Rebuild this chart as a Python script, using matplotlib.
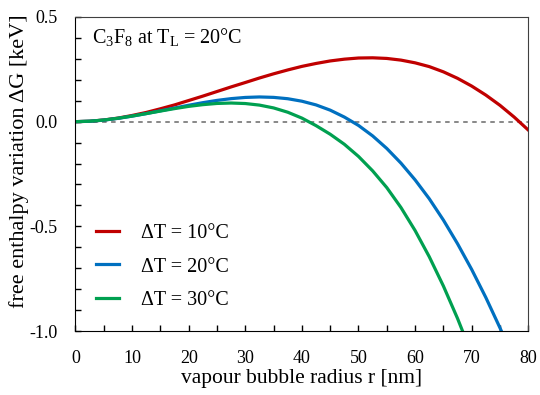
import numpy as np
import matplotlib
matplotlib.use("Agg")
import matplotlib.pyplot as plt
from matplotlib.ticker import MultipleLocator

plt.rcParams['font.family'] = ['Liberation Serif', 'DejaVu Serif']
plt.rcParams['mathtext.fontset'] = 'custom'
plt.rcParams['mathtext.rm'] = 'Liberation Serif'
plt.rcParams['mathtext.it'] = 'Liberation Serif:italic'
plt.rcParams['axes.unicode_minus'] = False

# bubble radius [nm]
r = [0, 2.5, 5, 7.5, 10, 12.5, 15, 17.5, 20, 22.5, 25, 27.5, 30, 32.5, 35, 37.5,
     40, 42.5, 45, 47.5, 50, 52.5, 55, 57.5, 60, 62.5, 65, 67.5, 70, 72.5, 75, 77.5, 80]

# free enthalpy variation [keV]
dg_10 = [0, 0.002, 0.008, 0.017, 0.0295, 0.044, 0.0615, 0.080, 0.101, 0.122, 0.144,
         0.166, 0.187, 0.2085, 0.2285, 0.247, 0.264, 0.278, 0.290, 0.2985, 0.304,
         0.305, 0.302, 0.294, 0.281, 0.263, 0.238, 0.207, 0.170, 0.127, 0.078, 0.022, -0.04]
dg_20 = [0, 0.002, 0.0074, 0.0158, 0.0264, 0.0385, 0.0517, 0.0652, 0.0784, 0.0907,
         0.1015, 0.110, 0.1157, 0.118, 0.116, 0.1096, 0.0977, 0.080, 0.055, 0.022,
         -0.018, -0.068, -0.128, -0.198, -0.278, -0.368, -0.47, -0.583, -0.706, -0.84,
         -0.985, -1.14]
dg_30 = [0, 0.0021, 0.0078, 0.0163, 0.0267, 0.0385, 0.0506, 0.0623, 0.073, 0.0812,
         0.087, 0.089, 0.0866, 0.0791, 0.0656, 0.0451, 0.017, -0.019, -0.06, -0.108,
         -0.166, -0.235, -0.315, -0.41, -0.52, -0.645, -0.785, -0.94, -1.11]

labels = ['ΔT = 10°C', 'ΔT = 20°C', 'ΔT = 30°C']
colors = ['#C00000', '#0070C0', '#00A050']

fig = plt.figure(figsize=(5.4, 3.95), dpi=100)
ax = fig.add_axes([0.1398, 0.162, 0.8385, 0.795])

ax.plot([0, 80], [0, 0], color='#7f7f7f', lw=1.3, ls=(0, (2.5, 2.5)))
ax.plot(r, dg_10, color=colors[0], lw=2.3, label=labels[0])
ax.plot(r[:len(dg_20)], dg_20, color=colors[1], lw=2.3, label=labels[1])
ax.plot(r[:len(dg_30)], dg_30, color=colors[2], lw=2.3, label=labels[2])

ax.set_xlim(0, 80)
ax.set_ylim(-1.0, 0.5)
ax.xaxis.set_major_locator(MultipleLocator(10))
ax.xaxis.set_minor_locator(MultipleLocator(5))
ax.yaxis.set_major_locator(MultipleLocator(0.5))
ax.yaxis.set_minor_locator(MultipleLocator(0.1))
ax.yaxis.set_major_formatter(plt.FormatStrFormatter('%.1f'))
ax.tick_params(which='both', direction='in', length=4, width=1, labelsize=13,
               top=False, right=False)
ax.tick_params(axis='x', pad=14)
ax.tick_params(axis='y', pad=13)
for s in ['top', 'right']:
    ax.spines[s].set_color('#404040')
    ax.spines[s].set_linewidth(0.8)

ax.set_xlabel('vapour bubble radius r [nm]', fontsize=15.5, labelpad=1)
ax.set_ylabel('free enthalpy variation ΔG [keV]', fontsize=16)
ax.yaxis.set_label_coords(-0.103, 0.54)

ax.text(0.036, 0.917, 'C$_3$F$_8$ at T$_\\mathrm{L}$ = 20°C', transform=ax.transAxes,
        fontsize=14.5, va='baseline', ha='left')

ax.legend(loc='upper left', bbox_to_anchor=(0.045, 0.34), frameon=False, fontsize=14.5,
          handlelength=1.15, handletextpad=1.1, labelspacing=0.7,
          borderpad=0, borderaxespad=0)

fig.savefig('out.png', dpi=100)
